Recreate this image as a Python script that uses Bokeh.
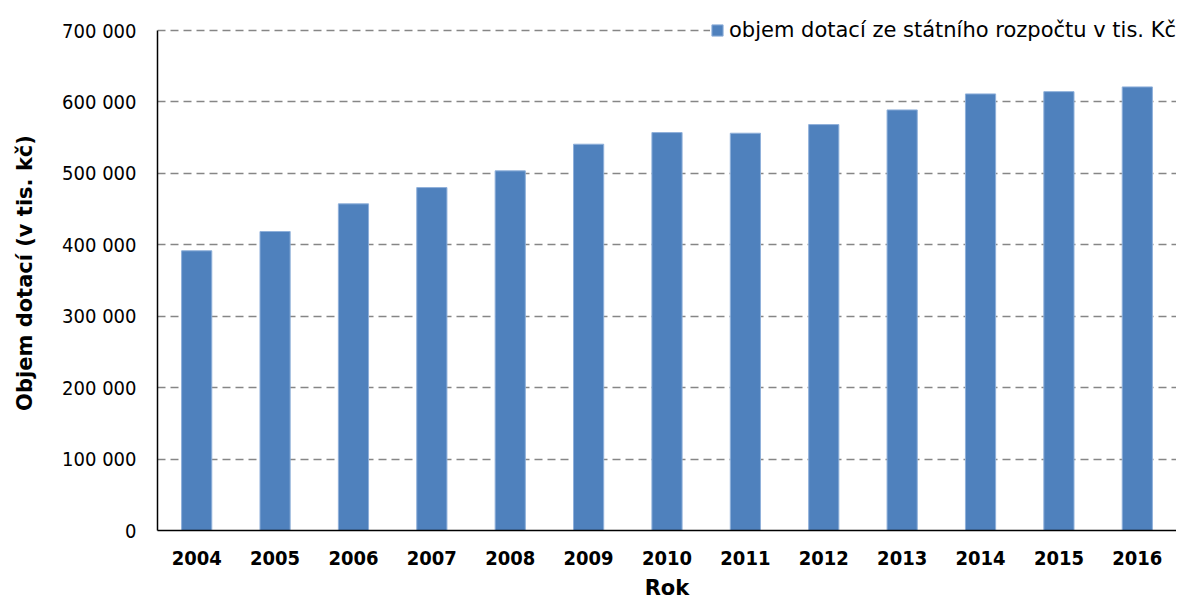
from bokeh.plotting import figure
from bokeh.models import ColumnDataSource, FixedTicker, CustomJSTickFormatter, Legend, LegendItem, FactorRange, Range1d
from bokeh.embed import file_html
from bokeh.resources import INLINE

years = ["2004", "2005", "2006", "2007", "2008", "2009", "2010",
         "2011", "2012", "2013", "2014", "2015", "2016"]
values = [391600, 418600, 457300, 480100, 503500, 540800, 557100,
          556200, 568300, 588800, 611200, 614400, 621000]
y_ticks = [0, 100000, 200000, 300000, 400000, 500000, 600000, 700000]
series_name = "objem dotací ze státního rozpočtu v tis. Kč"

FONT = "DejaVu Sans Condensed"

src = ColumnDataSource(dict(year=years, value=values))

p = figure(width=1176, height=603, output_backend="svg", toolbar_location=None,
           x_range=FactorRange(*years, range_padding=0),
           y_range=Range1d(0, 721000),
           min_border_left=157, min_border_right=0, min_border_top=15, min_border_bottom=73)
p.outline_line_color = None
p.background_fill_color = "white"

r = p.vbar(x="year", top="value", width=0.385, source=src,
           fill_color="#4F81BD", line_color="#8FB0DA", line_width=1)

p.xgrid.grid_line_color = None
p.ygrid.grid_line_color = "#868686"
p.ygrid.grid_line_width = 1.5
p.ygrid.grid_line_dash = "8 5"

p.yaxis.ticker = FixedTicker(ticks=y_ticks)
p.yaxis.bounds = (0, 700000)
p.yaxis.formatter = CustomJSTickFormatter(code="return tick.toString().replace(/\\B(?=(\\d{3})+(?!\\d))/g, ' ');")

for ax in (p.xaxis, p.yaxis):
    ax.axis_line_color = "black"
    ax.axis_line_width = 1.5
    ax.major_tick_line_color = None
    ax.minor_tick_line_color = None
    ax.major_tick_out = 0
    ax.major_tick_in = 0
    ax.major_label_text_font = FONT
    ax.major_label_text_font_size = "20px"
    ax.major_label_text_color = "black"
    ax.axis_label_text_font = "DejaVu Sans"
    ax.axis_label_text_font_size = "21px"
    ax.axis_label_text_font_style = "bold"
    ax.axis_label_text_color = "black"

p.yaxis.major_label_standoff = 21
p.xaxis.major_label_standoff = 20
p.xaxis.major_label_text_font_style = "bold"
p.yaxis.axis_label = "Objem dotací (v tis. kč)"
p.xaxis.axis_label = "Rok"
p.yaxis.axis_label_standoff = 22
p.xaxis.axis_label_standoff = 8

legend = Legend(items=[LegendItem(label=series_name, renderers=[r])],
                location=(553, 488), padding=0, margin=0, spacing=0,
                label_standoff=5, glyph_width=14, glyph_height=14,
                label_text_font="DejaVu Sans", label_text_font_size="21px",
                label_text_color="black",
                background_fill_color="white", background_fill_alpha=1,
                border_line_color=None)
p.add_layout(legend, "center")

open("out.html", "w").write(file_html(p, INLINE))
